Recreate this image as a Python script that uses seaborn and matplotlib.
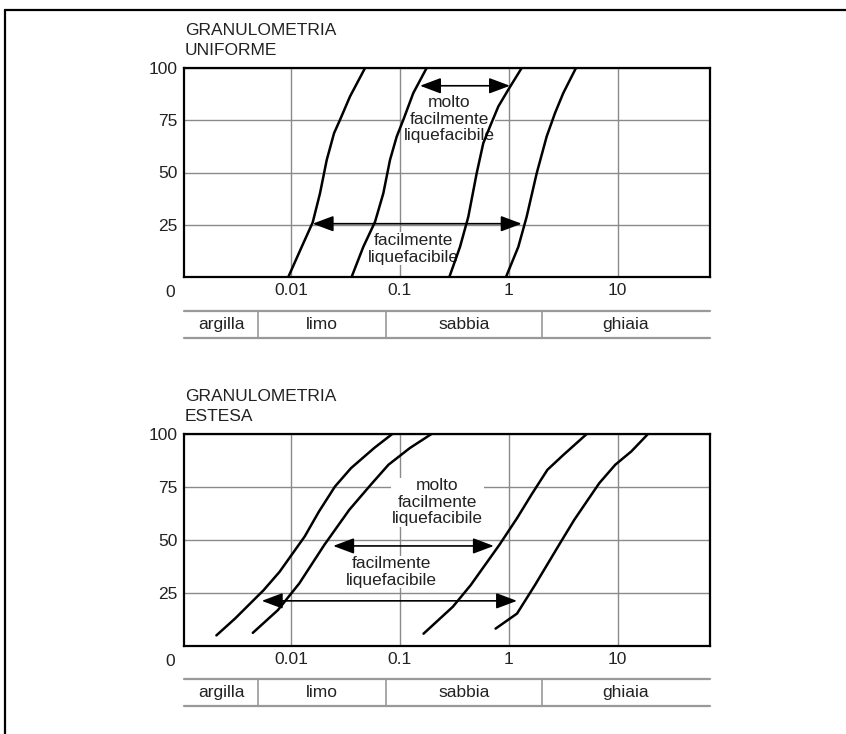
import numpy as np
import pandas as pd
import matplotlib
matplotlib.use("Agg")
import matplotlib.pyplot as plt
import seaborn as sns
from matplotlib.lines import Line2D
from matplotlib.patches import ArrowStyle
from matplotlib.ticker import NullLocator

# ---------------- data ----------------
size_ticks = [0.01, 0.1, 1, 10]
size_tick_labels = ["0.01", "0.1", "1", "10"]
pass_ticks = [25, 50, 75, 100]
pass_tick_labels = ["25", "50", "75", "100"]
soil_classes = ["argilla", "limo", "sabbia", "ghiaia"]
class_limits = [0.005, 0.075, 2.0]

titles = ["GRANULOMETRIA\nUNIFORME", "GRANULOMETRIA\nESTESA"]

# granulometria uniforme
uni_c1_d = [0.00944, 0.01253, 0.01581, 0.01845, 0.02128, 0.02484, 0.02818, 0.03483, 0.04786]
uni_c1_p = [0, 14.4, 26.1, 40, 56, 68.8, 75.2, 86.4, 100]
uni_c2_d = [0.0360, 0.0461, 0.0591, 0.0704, 0.0811, 0.0935, 0.1075, 0.1327, 0.176]
uni_c2_p = [0, 14.4, 26.4, 40, 56, 67.2, 75.2, 88, 100]
uni_c3_d = [0.2845, 0.3565, 0.4249, 0.507, 0.583, 0.672, 0.802, 0.989, 1.314]
uni_c3_p = [0, 14.4, 28.8, 49.6, 64, 72, 81.6, 89.6, 100]
uni_c4_d = [0.9426, 1.223, 1.459, 1.804, 2.228, 2.657, 3.166, 4.14]
uni_c4_p = [0, 14.4, 28.8, 49.6, 67.2, 78.4, 88, 100]

# granulometria estesa
est_c1_d = [0.002063, 0.003055, 0.005592, 0.00785, 0.01333, 0.01804, 0.02531, 0.03556, 0.05808, 0.0850]
est_c1_p = [5.0, 12.9, 26.3, 35.0, 51.6, 63.4, 75.2, 83.9, 93.4, 100]
est_c2_d = [0.004457, 0.007561, 0.0119, 0.02017, 0.03424, 0.05387, 0.07852, 0.1236, 0.195]
est_c2_p = [6.2, 16.9, 29.5, 47.6, 64.2, 76.0, 85.5, 93.4, 100]
est_c3_d = [0.1648, 0.3062, 0.4467, 0.8171, 1.191, 1.612, 2.263, 3.183, 5.2]
est_c3_p = [5.8, 18.5, 28.7, 47.6, 60.3, 71.3, 83.1, 90.2, 100]
est_c4_d = [0.7568, 1.191, 1.738, 2.951, 3.992, 6.776, 9.51, 13.36, 19.0]
est_c4_p = [8.2, 15.3, 28.7, 48.4, 59.5, 76.8, 85.5, 91.8, 100]

# ranges (double arrows) : (d_from, d_to, passing)
uni_molto_range = (0.153, 1.026, 91.5)
uni_facil_range = (0.0158, 1.314, 25.5)
est_molto_range = (0.02438, 0.7295, 47.2)
est_facil_range = (0.005384, 1.191, 21.3)

label_molto = "molto\nfacilmente\nliquefacibile"
label_facil = "facilmente\nliquefacibile"
uni_molto_pos = (0.284, 75.5)
uni_facil_pos = (0.133, 13.5)
est_molto_pos = (0.222, 67.8)
est_facil_pos = (0.0836, 34.9)

# ---------------- style ----------------
sns.set_style("white")
plt.rcParams["font.family"] = ["Liberation Sans", "DejaVu Sans"]
FS = 12.5
XMIN, XMAX = 0.00104, 70.5
W, H = 846, 734

fig = plt.figure(figsize=(W / 100, H / 100), dpi=100)


def frac_box(left, top, right, bottom):
    return [left / W, 1 - bottom / H, (right - left) / W, (bottom - top) / H]


def make_df(ds, ps):
    rows = []
    for i, (d, p) in enumerate(zip(ds, ps)):
        for dv, pv in zip(d, p):
            rows.append({"d": dv, "p": pv, "curve": i})
    return pd.DataFrame(rows)


def draw_chart(ax, tax, df, title, ranges, texts):
    ax.set_xscale("log")
    sns.lineplot(data=df, x="d", y="p", units="curve", estimator=None, sort=False,
                 color="black", lw=1.8, ax=ax, zorder=3)
    ax.set_xlim(XMIN, XMAX)
    ax.set_ylim(0, 100)
    ax.set_xticks(size_ticks)
    ax.set_xticklabels(size_tick_labels)
    ax.xaxis.set_minor_locator(NullLocator())
    ax.set_yticks(pass_ticks)
    ax.set_yticklabels(pass_tick_labels)
    ax.set_xlabel("")
    ax.set_ylabel("")
    ax.grid(True, color="#8a8a8a", lw=1.0)
    ax.set_axisbelow(True)
    ax.tick_params(length=0, labelsize=FS, pad=4.5, colors="#222222")
    for s in ax.spines.values():
        s.set_color("black")
        s.set_linewidth(1.6)
    ax.annotate("0", xy=(0, 0), xycoords="axes fraction", xytext=(-9, -15),
                textcoords="offset pixels", ha="right", va="center", fontsize=FS,
                color="#222222")
    ax.annotate(title, xy=(0, 1), xycoords="axes fraction", xytext=(1, 10),
                textcoords="offset pixels", ha="left", va="bottom", fontsize=FS,
                linespacing=1.42, color="#222222")
    style = ArrowStyle("<|-|>", head_length=0.8, head_width=0.3)
    for (x1, x2, y) in ranges:
        ax.annotate("", xy=(x2, y), xytext=(x1, y),
                    arrowprops=dict(arrowstyle=style, mutation_scale=16, color="black",
                                    lw=1.2, shrinkA=0, shrinkB=0), zorder=4)
    for (s, (x, y)) in texts:
        ax.text(x, y, s, ha="center", va="center", fontsize=FS, linespacing=1.12,
                color="#222222", zorder=2.5,
                bbox=dict(facecolor="white", edgecolor="none", pad=0.5))

    # soil class band
    tax.set_xscale("log")
    tax.set_xlim(XMIN, XMAX)
    tax.set_ylim(0, 1)
    tax.axis("off")
    tax.axhline(1, color="#999999", lw=1.6, clip_on=False)
    tax.axhline(0, color="#999999", lw=1.6, clip_on=False)
    for lim in class_limits:
        tax.axvline(lim, color="#999999", lw=1.2)
    bounds = [XMIN] + class_limits + [XMAX]
    for name, a, b in zip(soil_classes, bounds[:-1], bounds[1:]):
        tax.text(np.sqrt(a * b), 0.5, name, ha="center", va="center", fontsize=FS,
                 color="#222222")


ax1 = fig.add_axes(frac_box(184, 68, 710, 277))
tax1 = fig.add_axes(frac_box(184, 311, 710, 338))
ax2 = fig.add_axes(frac_box(184, 434, 710, 646))
tax2 = fig.add_axes(frac_box(184, 679, 710, 706))

df_uni = make_df([uni_c1_d, uni_c2_d, uni_c3_d, uni_c4_d],
                 [uni_c1_p, uni_c2_p, uni_c3_p, uni_c4_p])
df_est = make_df([est_c1_d, est_c2_d, est_c3_d, est_c4_d],
                 [est_c1_p, est_c2_p, est_c3_p, est_c4_p])

draw_chart(ax1, tax1, df_uni, titles[0], [uni_molto_range, uni_facil_range],
           [(label_molto, uni_molto_pos), (label_facil, uni_facil_pos)])
draw_chart(ax2, tax2, df_est, titles[1], [est_molto_range, est_facil_range],
           [(label_molto, est_molto_pos), (label_facil, est_facil_pos)])

# outer frame (left and top edges)
fig.add_artist(Line2D([5 / W, 5 / W], [0, 1 - 10 / H], transform=fig.transFigure,
                      color="black", lw=1.6))
fig.add_artist(Line2D([5 / W, 1], [1 - 10 / H, 1 - 10 / H], transform=fig.transFigure,
                      color="black", lw=1.6))

fig.savefig("out.png", dpi=100)
